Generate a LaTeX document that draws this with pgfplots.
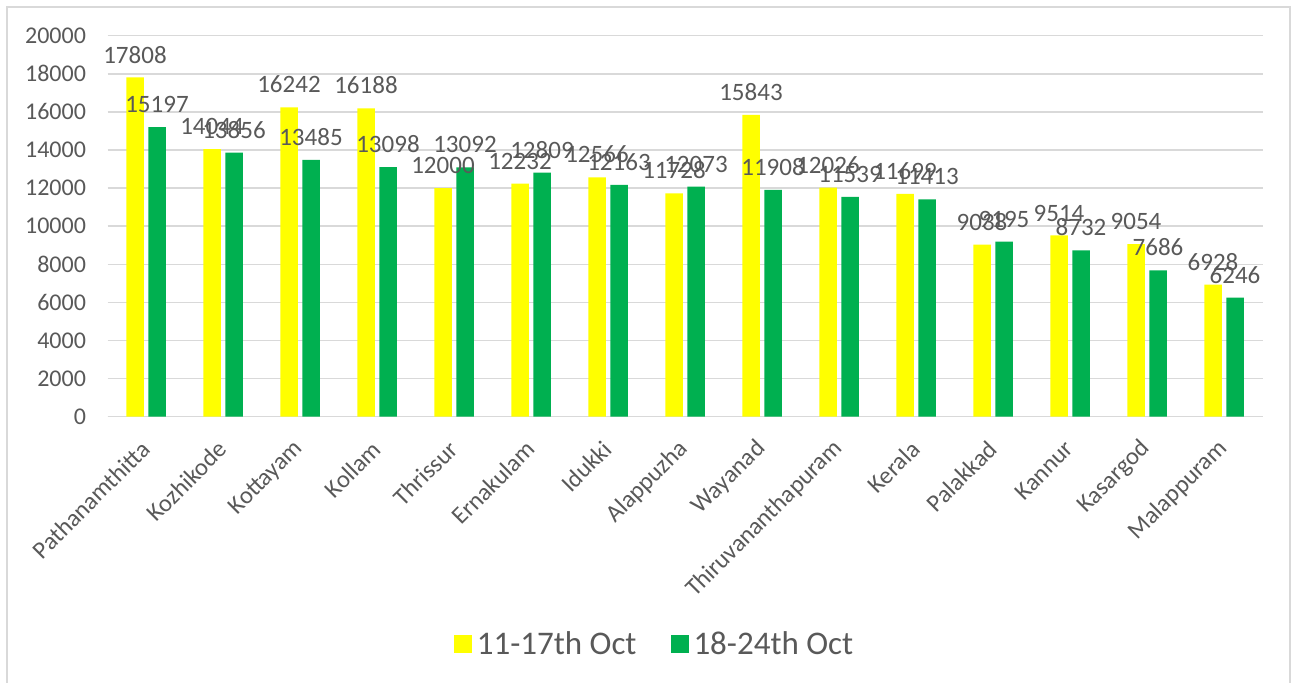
\documentclass[border=0pt]{standalone}
\usepackage{pgfplots}
\pgfplotsset{compat=1.18}
\usepackage{fontspec}
\setmainfont{Carlito}
\definecolor{txt}{HTML}{595959}
\definecolor{gridc}{HTML}{D9D9D9}
\definecolor{yel}{HTML}{FFFF00}
\definecolor{grn}{HTML}{00B050}
\begin{document}
\begin{tikzpicture}
\useasboundingbox (0,0) rectangle (1297pt,682pt);
\fill[white] (0,0) rectangle (1297pt,682pt);
\draw[gridc, line width=1.5pt] (7pt,-5pt) rectangle (1290pt,675pt);
\begin{axis}[
  at={(107.5pt,265.3pt)}, anchor=south west,
  scale only axis, width=1155pt, height=381pt,
  xmin=-0.5, xmax=14.5, ymin=0, ymax=20000,
  ybar=4.5pt, bar width=17.5pt,
  xtick={0,...,14},
  xticklabels={Pathanamthitta,Kozhikode,Kottayam,Kollam,Thrissur,Ernakulam,Idukki,Alappuzha,Wayanad,Thiruvananthapuram,Kerala,Palakkad,Kannur,Kasargod,Malappuram},
  ytick={0,2000,...,20000},
  scaled y ticks=false,
  /pgf/number format/.cd, fixed, 1000 sep={}, assume math mode=true, /pgfplots/.cd,
  axis x line*=bottom, axis y line*=left,
  x axis line style={draw=gridc, line width=1.5pt, -},
  y axis line style={draw=none},
  major tick length=0pt,
  ymajorgrids, grid style={gridc, line width=1.5pt},
  yticklabel style={font=\fontsize{24}{28}\selectfont, text=txt, xshift=-18pt},
  xticklabel style={font=\fontsize{24.5}{28}\selectfont, text=txt, xshift=2pt, yshift=-26pt, rotate=45, anchor=east},
  nodes near coords,
  every node near coord/.append style={font=\fontsize{25}{29}\selectfont, text=txt, anchor=south, inner sep=1pt, yshift=13pt},
  clip=false,
  legend style={at={(0.4736,-0.5966)}, anchor=center, draw=none, fill=none, legend columns=2,
    font=\fontsize{33}{38}\selectfont, text=txt,
    /tikz/every odd column/.append style={column sep=3pt},
    /tikz/every even column/.append style={column sep=32pt}},
  legend image code/.code={\fill[#1] (0pt,-9pt) rectangle (18pt,9pt);},
]
\addplot[fill=yel, draw=none] coordinates {
(0,17808) (1,14044) (2,16242) (3,16188) (4,12000) (5,12232) (6,12566) (7,11728)
(8,15843) (9,12026) (10,11699) (11,9038) (12,9514) (13,9054) (14,6928)};
\addplot[fill=grn, draw=none] coordinates {
(0,15197) (1,13856) (2,13485) (3,13098) (4,13092) (5,12809) (6,12163) (7,12073)
(8,11908) (9,11539) (10,11413) (11,9195) (12,8732) (13,7686) (14,6246)};
\legend{11-17th Oct, 18-24th Oct}
\end{axis}
\end{tikzpicture}
\end{document}
